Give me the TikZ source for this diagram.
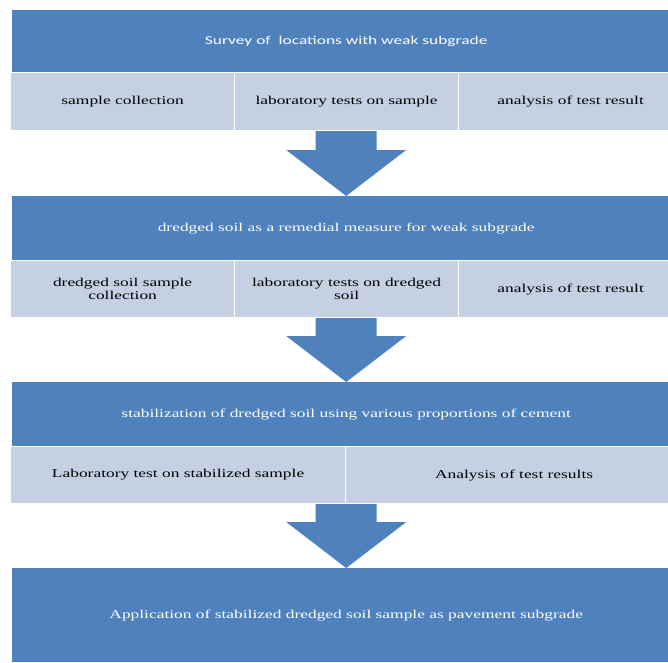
\documentclass[tikz,border=0pt]{standalone}
\usepackage{fontspec}
\setmainfont{Liberation Serif}[FakeStretch=1.45]
\newfontfamily\headfont{Carlito}[FakeStretch=1.45]
\usetikzlibrary{calc}
\definecolor{stepblue}{RGB}{79,129,189}
\definecolor{celllight}{RGB}{197,208,227}
\tikzset{
  stepbox/.style={fill=stepblue, anchor=north west, inner sep=0pt, minimum width=668pt, minimum height=62pt, text=white, font=\fontsize{12}{13.3}\selectfont},
  cellbox/.style={fill=celllight, draw=white, line width=1.2pt, anchor=north west, inner sep=0pt, minimum width=224pt, minimum height=58pt, align=center, font=\fontsize{12}{13.3}\selectfont},
  blockarrow/.style={fill=stepblue}
}
\newcommand{\flowarrow}[2]{%
  \fill[blockarrow] ($(#2.north |- #1.south)+(-30.5,0)$) -- ($(#2.north |- #1.south)+(30.5,0)$)
    -- ($(#2.north)+(30.5,-46)$) -- ($(#2.north)+(60,-46)$) -- (#2.north)
    -- ($(#2.north)+(-60,-46)$) -- ($(#2.north)+(-30.5,-46)$) -- cycle;}
\begin{document}
\begin{tikzpicture}[x=1pt, y=-1pt]
			\useasboundingbox[fill=white] (0,0) rectangle (668,662);
			\clip (0,0) rectangle (668,662);
			\node[stepbox] (survey) at (12,10) {\headfont Survey of \ locations with weak subgrade};
			\node[cellbox] (collect) at (10,72) {sample collection};
			\node[cellbox] (labtest) at (234,72) {laboratory tests on sample};
			\node[cellbox] (analysis) at (458,72) {analysis of test result};
			\node[stepbox, minimum height=64pt] (remedy) at (12,196) {dredged soil as a remedial measure for weak subgrade};
			\node[cellbox, minimum height=57pt] (dcollect) at (10,260) {dredged soil sample\\collection};
			\node[cellbox, minimum height=57pt] (dlabtest) at (234,260) {laboratory tests on dredged\\soil};
			\node[cellbox, minimum height=57pt] (danalysis) at (458,260) {analysis of test result};
			\node[stepbox, minimum height=64pt] (stabil) at (12,382) {stabilization of dredged soil using various proportions of cement};
			\node[cellbox, minimum height=57pt, minimum width=335pt] (stabtest) at (10,446) {Laboratory test on stabilized sample};
			\node[cellbox, minimum height=57pt, minimum width=337pt] (stabanalysis) at (345,446) {Analysis of test results};
			\node[stepbox, minimum height=94pt] (apply) at (12,568) {Application of stabilized dredged soil sample as pavement subgrade};
			\flowarrow{labtest}{remedy}
			\flowarrow{dlabtest}{stabil}
			\flowarrow{stabtest}{apply}
\end{tikzpicture}
\end{document}
